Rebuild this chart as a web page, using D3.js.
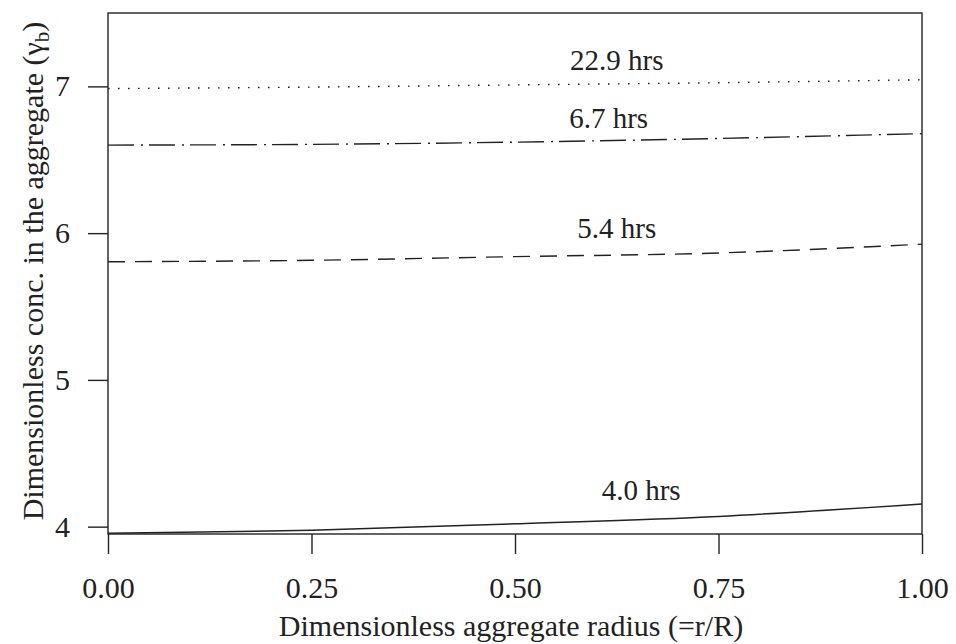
<!DOCTYPE html>
<html>
<head>
<meta charset="utf-8">
<script src="https://cdn.jsdelivr.net/npm/d3@7"></script>
<style>
  html, body { margin: 0; padding: 0; background: #fff; }
  svg { display: block; }
  text { font-family: "Liberation Serif", "Times New Roman", serif; fill: #222; }
</style>
</head>
<body>
<svg id="chart" width="956" height="644"></svg>
<script>
// Radial positions (r/R) at which each profile is sampled
const radius = [0, 0.25, 0.5, 0.75, 1.0];

// Dimensionless concentration profiles at each elapsed time
const conc229 = [6.985, 6.995, 7.010, 7.025, 7.045];
const conc67  = [6.600, 6.605, 6.620, 6.645, 6.678];
const conc54  = [5.805, 5.815, 5.840, 5.865, 5.925];
const conc40  = [3.955, 3.975, 4.020, 4.070, 4.155];

const seriesNames = ["22.9 hrs", "6.7 hrs", "5.4 hrs", "4.0 hrs"];
// Label anchors, in data units
const labelR = [0.625, 0.615, 0.625, 0.655];
const labelC = [7.112, 6.716, 5.967, 4.182];

const xTicks = [0, 0.25, 0.5, 0.75, 1.0];
const yTicks = [4, 5, 6, 7];

const svg = d3.select("#chart");
const plotL = 108, plotR = 922, plotT = 13, plotB = 534;

const x = d3.scaleLinear().domain([0, 1]).range([plotL, plotR]);
const y = d3.scaleLinear().domain([3.95, 7.5]).range([plotB, plotT]);

const ink = "#222";

// Frame
svg.append("rect")
  .attr("x", x(0)).attr("y", y(7.5))
  .attr("width", x(1) - x(0)).attr("height", y(3.95) - y(7.5))
  .attr("fill", "none").attr("stroke", ink).attr("stroke-width", 1.4);

// Axes
const xAxis = svg.append("g")
  .attr("transform", `translate(0,${plotB})`)
  .call(d3.axisBottom(x).tickValues(xTicks).tickFormat(d3.format(".2f"))
        .tickSize(20).tickSizeOuter(0).tickPadding(23));
const yAxis = svg.append("g")
  .attr("transform", `translate(${plotL},0)`)
  .call(d3.axisLeft(y).tickValues(yTicks).tickFormat(d3.format("d"))
        .tickSize(20).tickSizeOuter(0).tickPadding(18));

[xAxis, yAxis].forEach(g => {
  g.select(".domain").remove();
  g.selectAll(".tick line").attr("stroke", ink).attr("stroke-width", 1.4);
  g.selectAll(".tick text")
    .attr("fill", ink)
    .style("font-family", '"Liberation Serif", "Times New Roman", serif')
    .style("font-size", "30px");
});

// Profiles
const series = [
  { vals: conc229, dash: "1.6 8.4", width: 1.4 },
  { vals: conc67,  dash: "26 7 2 6", width: 1.4 },
  { vals: conc54,  dash: "17 10",   width: 1.4 },
  { vals: conc40,  dash: null,      width: 1.5 }
];

const line = d3.line()
  .x((d, i) => x(radius[i]))
  .y(d => y(d))
  .curve(d3.curveMonotoneX);

series.forEach(s => {
  svg.append("path")
    .datum(s.vals)
    .attr("d", line)
    .attr("fill", "none")
    .attr("stroke", ink)
    .attr("stroke-width", s.width)
    .attr("stroke-dasharray", s.dash);
});

// Curve labels
seriesNames.forEach((name, i) => {
  svg.append("text")
    .attr("x", x(labelR[i]))
    .attr("y", y(labelC[i]))
    .attr("text-anchor", "middle")
    .style("font-size", "29px")
    .text(name);
});

// Axis titles
svg.append("text")
  .attr("x", 511).attr("y", 636)
  .attr("text-anchor", "middle")
  .style("font-size", "30px")
  .text("Dimensionless aggregate radius (=r/R)");

const yTitle = svg.append("text")
  .attr("transform", "translate(43,271) rotate(-90)")
  .attr("text-anchor", "middle")
  .style("font-size", "30px");
yTitle.append("tspan").text("Dimensionless conc. in the aggregate (γ");
yTitle.append("tspan").attr("dy", 6).style("font-size", "21px").text("b");
yTitle.append("tspan").attr("dy", -6).text(")");
</script>
</body>
</html>
